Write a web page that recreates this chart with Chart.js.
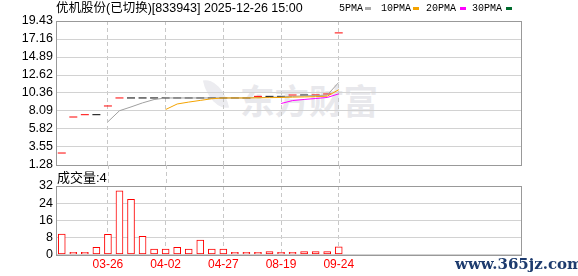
<!DOCTYPE html>
<html>
<head>
<meta charset="utf-8">
<script src="https://cdn.jsdelivr.net/npm/chart.js@4.4.1/dist/chart.umd.min.js"></script>
<style>
  html, body { margin: 0; padding: 0; background: #fff; }
  #wrap { position: relative; width: 578px; height: 276px; overflow: hidden;
          font-family: "Liberation Sans", Arial, "Noto Sans CJK SC", sans-serif; }
  canvas { position: absolute; left: 0; }
  #priceChart { top: 0; }
  #volChart { top: 165px; }
  .t { position: absolute; white-space: nowrap; line-height: 1; color: #000; }
  #title { left: 56px; top: 2px; font-size: 12.5px; }
  .lg { position: absolute; top: 4px; font: 10px "Liberation Mono", monospace; line-height: 1; color: #000; }
  .sw { position: absolute; top: 7px; width: 6px; height: 3px; }
  #mark { left: 240px; top: 74px; font: bold 34.5px "Noto Sans CJK SC"; color: #e8e8ec; }
  #leaf { position: absolute; left: 206px; top: 78px; width: 20px; height: 32px;
          background: #ececf0; border-radius: 0 100% 0 100%; transform: rotate(-12deg); }
  #volLabel { left: 57px; top: 171px; font-size: 13px; }
  #site { left: 455px; top: 255px; font: bold 15px "DejaVu Serif", serif; color: #1d3b6e; }
</style>
</head>
<body>
<div id="wrap">
  <div id="leaf"></div>
  <div class="t" id="mark">东方财富</div>
  <canvas id="priceChart" width="578" height="176"></canvas>
  <canvas id="volChart" width="578" height="111"></canvas>
  <div class="t" id="title">优机股份(已切换)[833943] 2025-12-26 15:00</div>
  <div class="lg" style="left:339px">5PMA</div>  <div class="sw" style="left:365px;background:#aaaaaa"></div>
  <div class="lg" style="left:381px">10PMA</div> <div class="sw" style="left:413px;background:#f4a300"></div>
  <div class="lg" style="left:426px">20PMA</div> <div class="sw" style="left:460px;background:#ff00ff"></div>
  <div class="lg" style="left:472px">30PMA</div> <div class="sw" style="left:506px;background:#006b2d"></div>
  <div class="t" id="volLabel">成交量:4</div>
  <div class="t" id="site">www.365jz.com</div>
</div>
<script>
// ── 行情数据 ──
const TICK_POS    = [4, 9, 14, 19, 24];
const TICK_LABELS = ['03-26', '04-02', '04-27', '08-19', '09-24'];
const PRICE_TICKS = [1.28, 3.55, 5.82, 8.09, 10.36, 12.62, 14.89, 17.16, 19.43];
const VOL_TICKS   = [0, 8, 16, 24, 32];

const CLOSE = [2.79, 7.33, 7.62, 7.62, 8.72, 9.73, 9.73, 9.73, 9.73, 9.73,
               9.73, 9.73, 9.73, 9.73, 9.73, 9.73, 9.73, 9.93, 9.93, 9.93,
               10.10, 10.10, 10.11, 10.23, 17.93];

const MA5  = [null, null, null, null, 6.73, 8.12, 8.60, 9.11, 9.53, 9.73,
              9.73, 9.73, 9.73, 9.73, 9.73, 9.73, 9.73, 9.77, 9.81, 9.85,
              9.93, 10.00, 10.03, 10.09, 11.69];
const MA10 = [null, null, null, null, null, null, null, null, null, 8.27,
              8.97, 9.21, 9.42, 9.63, 9.73, 9.73, 9.73, 9.75, 9.77, 9.79,
              9.83, 9.86, 9.90, 9.95, 10.77];
const MA20 = [null, null, null, null, null, null, null, null, null, null,
              null, null, null, null, null, null, null, null, null, 9.03,
              9.40, 9.54, 9.66, 9.79, 10.25];
const MA30 = [];

const VOLUME = [9.5, 1.0, 1.0, 3.3, 9.4, 29.7, 25.8, 8.5, 2.5, 2.5,
                3.3, 2.5, 6.7, 2.5, 2.5, 1.0, 1.0, 1.0, 1.4, 1.0,
                1.0, 1.4, 1.4, 1.4, 3.6];

// ── 样式 ──
const RED    = '#ff0000';
const BLACK  = '#000000';
const GRID_H = '#d2d2d2';
const GRID_V = '#c8c8c8';
const FRAME  = '#999999';
const X_MIN  = -0.5;
const X_MAX  = 39.88;

const pts = arr => arr.map((v, i) => ({ x: i, y: v }));
const candleColors = CLOSE.map((c, i) => (i === 0 || c > CLOSE[i - 1]) ? RED : BLACK);

// 外框
const panelBox = {
  id: 'panelBox',
  afterDatasetsDraw(c) {
    const a = c.chartArea, ctx = c.ctx;
    ctx.save();
    ctx.strokeStyle = FRAME;
    ctx.lineWidth = 1;
    ctx.strokeRect(Math.round(a.left) + 0.5, Math.round(a.top) + 0.5,
                   Math.round(a.width) - 1, Math.round(a.height));
    ctx.restore();
  }
};

// 两个面板之间的虚线
const gapDash = {
  id: 'gapDash',
  beforeDatasetsDraw(c) {
    const sx = c.scales.x, ctx = c.ctx;
    ctx.save();
    ctx.strokeStyle = GRID_V;
    ctx.lineWidth = 1;
    ctx.setLineDash([4, 3]);
    TICK_POS.forEach(p => {
      const px = Math.round(sx.getPixelForValue(p)) + 0.5;
      ctx.beginPath();
      ctx.moveTo(px, 0);
      ctx.lineTo(px, c.chartArea.top);
      ctx.stroke();
    });
    ctx.restore();
  }
};

function xScale(showLabels) {
  return {
    type: 'linear',
    min: X_MIN,
    max: X_MAX,
    offset: false,
    afterBuildTicks: s => { s.ticks = TICK_POS.map(v => ({ value: v })); },
    afterFit: s => { s.height = showLabels ? 21.5 : 0; },
    grid: { color: GRID_V, drawTicks: false, offset: false },
    border: { display: false, dash: [4, 3] },
    ticks: {
      display: showLabels,
      autoSkip: false,
      maxRotation: 0,
      padding: 3,
      color: RED,
      font: { family: '"Liberation Sans", Arial', size: 12 },
      callback: (v, i) => TICK_LABELS[i],
    },
  };
}

function yScale(min, max, ticks, fmt) {
  return {
    min, max,
    afterBuildTicks: s => { s.ticks = ticks.map(v => ({ value: v })); },
    afterFit: s => { s.width = 56; },
    grid: { color: GRID_H, drawTicks: false },
    border: { display: false },
    ticks: {
      autoSkip: false,
      padding: 3,
      color: '#000',
      font: { family: '"Liberation Sans", Arial', size: 12.5 },
      callback: fmt,
    },
  };
}

function maLine(data, color, order) {
  return {
    type: 'line',
    data: pts(data),
    borderColor: color,
    borderWidth: 1,
    pointRadius: 0,
    spanGaps: false,
    order,
  };
}

// ─── K线 + 均线 ───
new Chart(document.getElementById('priceChart'), {
  type: 'line',
  data: {
    datasets: [
      maLine(MA20, '#ff00ff', 1),
      maLine(MA10, '#f4a300', 2),
      maLine(MA5,  '#a0a0a0', 3),
      maLine(MA30, '#006b2d', 0),
      {
        data: pts(CLOSE),
        showLine: false,
        pointStyle: 'line',
        pointRadius: 4,
        pointBorderWidth: 1,
        pointBorderColor: candleColors,
        pointBackgroundColor: candleColors,
        order: 4,
      },
    ]
  },
  options: {
    responsive: false,
    animation: false,
    layout: { padding: { top: 21, right: 56, bottom: 11, left: 0 } },
    plugins: { legend: { display: false }, tooltip: { enabled: false } },
    scales: {
      x: xScale(false),
      y: yScale(1.28, 19.43, PRICE_TICKS, v => v.toFixed(2)),
    }
  },
  plugins: [panelBox],
});

// ─── 成交量 ───
new Chart(document.getElementById('volChart'), {
  type: 'bar',
  data: {
    datasets: [{
      data: pts(VOLUME),
      backgroundColor: '#ffffff',
      borderColor: RED,
      borderWidth: 1,
      borderSkipped: false,
      barThickness: 7,
    }]
  },
  options: {
    responsive: false,
    animation: false,
    layout: { padding: { top: 21, right: 56, bottom: 0, left: 0 } },
    plugins: { legend: { display: false }, tooltip: { enabled: false } },
    scales: {
      x: xScale(true),
      y: yScale(0, 32, VOL_TICKS, v => String(v)),
    }
  },
  plugins: [panelBox, gapDash],
});
</script>
</body>
</html>
